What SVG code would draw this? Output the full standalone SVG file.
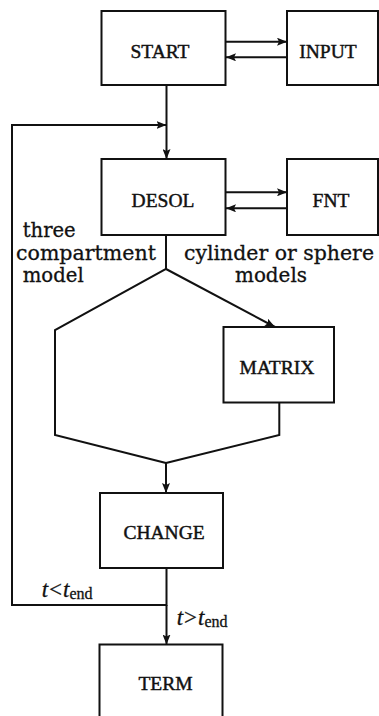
<svg xmlns="http://www.w3.org/2000/svg" width="379" height="716" viewBox="0 0 379 716">
<defs>
<style>
.box{fill:#fff;stroke:#111;stroke-width:2}
.ln{fill:none;stroke:#111;stroke-width:2}
.lbl{font-family:"Liberation Serif","Times New Roman",serif;font-size:19.5px;fill:#111;stroke:#111;stroke-width:0.45;text-anchor:middle}
.note{font-family:"DejaVu Serif","Liberation Serif",serif;font-size:21px;fill:#111;stroke:#111;stroke-width:0.3}
.math{font-family:"Liberation Serif","Times New Roman",serif;font-size:23px;fill:#111;stroke:#111;stroke-width:0.3}
</style>
<marker id="ah" markerUnits="userSpaceOnUse" markerWidth="11" markerHeight="8" refX="10" refY="4" orient="auto">
<path d="M0,0 L10,4 L0,8 L2,4 z" fill="#111"/>
</marker>
</defs>
<g id="start"><rect class="box" x="101.5" y="11" width="124" height="74"/><text class="lbl" x="160" y="57.5">START</text></g>
<g id="input"><rect class="box" x="287" y="11" width="91" height="74"/><text class="lbl" x="328" y="57.5">INPUT</text></g>
<g id="desol"><rect class="box" x="101.5" y="159" width="124" height="76"/><text class="lbl" x="163" y="206.5">DESOL</text></g>
<g id="fnt"><rect class="box" x="287" y="159" width="91" height="76"/><text class="lbl" x="331" y="206.5">FNT</text></g>
<g id="matrix"><rect class="box" x="223.5" y="327" width="110.5" height="75.5"/><text class="lbl" x="277" y="373.5">MATRIX</text></g>
<g id="change"><rect class="box" x="100" y="493" width="123" height="75"/><text class="lbl" x="164" y="538.5">CHANGE</text></g>
<g id="term"><rect class="box" x="99.5" y="644.5" width="123" height="80"/><text class="lbl" x="165.5" y="689.5">TERM</text></g>
<g id="connectors">
<line class="ln" x1="226" y1="41.7" x2="287" y2="41.7" marker-end="url(#ah)"/>
<line class="ln" x1="287" y1="57.3" x2="226" y2="57.3" marker-end="url(#ah)"/>
<line class="ln" x1="166.5" y1="85" x2="166.5" y2="159" marker-end="url(#ah)"/>
<polyline class="ln" points="166.5,568 166.5,605 12,605 12,125 166.5,125" marker-end="url(#ah)"/>
<line class="ln" x1="166.5" y1="605" x2="166.5" y2="644.5" marker-end="url(#ah)"/>
<line class="ln" x1="226" y1="192.3" x2="287" y2="192.3" marker-end="url(#ah)"/>
<line class="ln" x1="287" y1="208.3" x2="226" y2="208.3" marker-end="url(#ah)"/>
<polyline class="ln" points="166,235 166,269 55,330 55,435 166,463"/>
<line class="ln" x1="166" y1="269" x2="275" y2="327" marker-end="url(#ah)"/>
<polyline class="ln" points="279.3,402.5 279.3,435 166,463"/>
<line class="ln" x1="166" y1="463" x2="166" y2="493" marker-end="url(#ah)"/>
</g>
<g id="labels">
<text class="note" x="22.7" y="236.7" textLength="53" lengthAdjust="spacingAndGlyphs">three</text>
<text class="note" x="16" y="260" textLength="140" lengthAdjust="spacingAndGlyphs">compartment</text>
<text class="note" x="22.7" y="281.7" textLength="61" lengthAdjust="spacingAndGlyphs">model</text>
<text class="note" x="184" y="260" textLength="190" lengthAdjust="spacingAndGlyphs">cylinder or sphere</text>
<text class="note" x="235" y="281.7" textLength="72" lengthAdjust="spacingAndGlyphs">models</text>
<text class="math" x="41.7" y="597.3"><tspan font-style="italic">t</tspan><tspan dx="1">&lt;</tspan><tspan font-style="italic" dx="1">t</tspan><tspan font-size="16" dy="2">end</tspan></text>
<text class="math" x="176.7" y="625"><tspan font-style="italic">t</tspan><tspan dx="1">&gt;</tspan><tspan font-style="italic" dx="1">t</tspan><tspan font-size="16" dy="2">end</tspan></text>
</g>
</svg>
